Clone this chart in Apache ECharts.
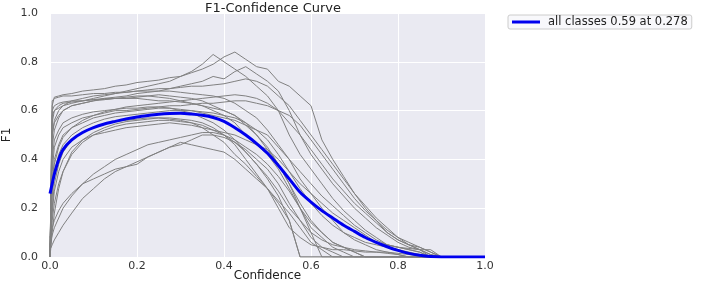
<!DOCTYPE html>
<html>
<head>
<meta charset="utf-8">
<script src="https://cdn.jsdelivr.net/npm/echarts@6/dist/echarts.min.js"></script>
<style>
  html, body { margin: 0; padding: 0; background: #fff; }
  #chart { width: 709px; height: 283px; }
</style>
</head>
<body>
<div id="chart"></div>
<script>
// confidence grid shared by every curve
const conf = [0, 0.005, 0.01, 0.02, 0.03, 0.05, 0.075, 0.1, 0.125, 0.15, 0.175, 0.2, 0.225, 0.25, 0.275,
  0.3, 0.325, 0.35, 0.375, 0.4, 0.425, 0.45, 0.475, 0.5, 0.525, 0.55, 0.575, 0.6, 0.625, 0.65, 0.675,
  0.7, 0.725, 0.75, 0.775, 0.8, 0.825, 0.85, 0.875, 0.9, 1.0];

// per-class F1 curves (grey)
const h1 = [0, 0.62, 0.655, 0.66, 0.665, 0.67, 0.68, 0.685, 0.69, 0.7, 0.705, 0.715, 0.72, 0.725, 0.735, 0.74, 0.755, 0.77, 0.79, 0.82, 0.84, 0.81, 0.78, 0.77, 0.72, 0.7, 0.66, 0.62, 0.48, 0.4, 0.33, 0.26, 0.2, 0.15, 0.1, 0.07, 0.05, 0.03, 0, 0, 0];
const h2 = [0, 0.58, 0.6, 0.61, 0.62, 0.63, 0.64, 0.65, 0.66, 0.67, 0.68, 0.69, 0.7, 0.71, 0.72, 0.74, 0.76, 0.79, 0.83, 0.8, 0.77, 0.74, 0.7, 0.66, 0.6, 0.5, 0.42, 0.36, 0.3, 0.24, 0.19, 0.15, 0.11, 0.08, 0.05, 0.04, 0.03, 0.02, 0, 0, 0];
const h3 = [0, 0.5, 0.55, 0.58, 0.6, 0.62, 0.63, 0.64, 0.65, 0.655, 0.66, 0.67, 0.675, 0.68, 0.69, 0.7, 0.71, 0.72, 0.74, 0.73, 0.76, 0.78, 0.75, 0.72, 0.68, 0.6, 0.5, 0.42, 0.36, 0.3, 0.25, 0.2, 0.16, 0.12, 0.09, 0.06, 0.04, 0.03, 0.01, 0, 0];
const f1 = [0, 0.64, 0.65, 0.655, 0.66, 0.66, 0.665, 0.67, 0.67, 0.675, 0.675, 0.68, 0.68, 0.68, 0.68, 0.675, 0.67, 0.665, 0.66, 0.65, 0.63, 0.6, 0.57, 0.52, 0.46, 0.4, 0.32, 0.26, 0.2, 0.15, 0.1, 0.07, 0.05, 0.03, 0.02, 0.01, 0, 0, 0, 0, 0];
const f2 = [0, 0.55, 0.6, 0.62, 0.63, 0.635, 0.64, 0.645, 0.65, 0.65, 0.655, 0.66, 0.66, 0.665, 0.66, 0.655, 0.65, 0.64, 0.62, 0.6, 0.58, 0.54, 0.5, 0.45, 0.38, 0.3, 0.22, 0.15, 0.1, 0.06, 0.04, 0.02, 0, 0, 0, 0, 0, 0, 0, 0, 0];
const f3 = [0, 0.45, 0.52, 0.57, 0.6, 0.62, 0.63, 0.64, 0.645, 0.65, 0.65, 0.655, 0.66, 0.655, 0.65, 0.64, 0.63, 0.62, 0.6, 0.58, 0.55, 0.5, 0.46, 0.42, 0.36, 0.28, 0.2, 0.12, 0.08, 0.04, 0.02, 0, 0, 0, 0, 0, 0, 0, 0, 0, 0];
const m1 = [0, 0.25, 0.35, 0.42, 0.46, 0.5, 0.53, 0.55, 0.565, 0.575, 0.58, 0.585, 0.59, 0.595, 0.6, 0.6, 0.6, 0.595, 0.59, 0.58, 0.57, 0.55, 0.52, 0.48, 0.42, 0.35, 0.28, 0.22, 0.17, 0.13, 0.1, 0.08, 0.06, 0.05, 0.04, 0.03, 0.02, 0.01, 0, 0, 0];
const m2 = [0, 0.2, 0.3, 0.38, 0.43, 0.48, 0.51, 0.53, 0.545, 0.555, 0.56, 0.565, 0.57, 0.57, 0.565, 0.56, 0.55, 0.53, 0.5, 0.47, 0.42, 0.38, 0.33, 0.28, 0.22, 0.15, 0, 0, 0, 0, 0, 0, 0, 0, 0, 0, 0, 0, 0, 0, 0];
const m3 = [0, 0.15, 0.22, 0.3, 0.35, 0.42, 0.47, 0.5, 0.52, 0.535, 0.545, 0.55, 0.555, 0.56, 0.56, 0.555, 0.55, 0.54, 0.52, 0.5, 0.47, 0.43, 0.38, 0.33, 0.27, 0.2, 0.15, 0.1, 0.07, 0.05, 0.04, 0.03, 0.025, 0.02, 0.02, 0.015, 0.01, 0.005, 0, 0, 0];
const m4 = [0, 0.3, 0.4, 0.46, 0.5, 0.53, 0.55, 0.57, 0.58, 0.59, 0.595, 0.6, 0.605, 0.61, 0.61, 0.605, 0.6, 0.59, 0.58, 0.57, 0.56, 0.54, 0.52, 0.5, 0.45, 0.4, 0.35, 0.3, 0.25, 0.21, 0.17, 0.13, 0.1, 0.07, 0.05, 0.04, 0.03, 0.02, 0, 0, 0];
const m5 = [0, 0.18, 0.27, 0.35, 0.4, 0.45, 0.48, 0.5, 0.51, 0.52, 0.53, 0.535, 0.54, 0.545, 0.55, 0.545, 0.54, 0.53, 0.52, 0.51, 0.5, 0.48, 0.46, 0.44, 0.4, 0.35, 0.3, 0.26, 0.22, 0.18, 0.15, 0.12, 0.09, 0.06, 0.05, 0.04, 0.035, 0.03, 0.03, 0, 0];
const m6 = [0, 0.35, 0.45, 0.5, 0.53, 0.55, 0.57, 0.58, 0.59, 0.6, 0.6, 0.605, 0.61, 0.615, 0.62, 0.62, 0.625, 0.63, 0.63, 0.635, 0.64, 0.64, 0.63, 0.62, 0.6, 0.58, 0.54, 0.48, 0.42, 0.36, 0.3, 0.24, 0.19, 0.15, 0.11, 0.08, 0.06, 0.04, 0.02, 0, 0];
const l1 = [0.03, 0.05, 0.07, 0.1, 0.13, 0.18, 0.24, 0.28, 0.32, 0.35, 0.37, 0.39, 0.41, 0.43, 0.45, 0.46, 0.48, 0.5, 0.5, 0.49, 0.47, 0.44, 0.4, 0.36, 0.3, 0.22, 0.15, 0.08, 0.04, 0.02, 0, 0, 0, 0, 0, 0, 0, 0, 0, 0, 0];
const l2 = [0.08, 0.12, 0.15, 0.19, 0.22, 0.26, 0.3, 0.32, 0.34, 0.36, 0.37, 0.38, 0.41, 0.43, 0.45, 0.47, 0.46, 0.45, 0.44, 0.43, 0.4, 0.36, 0.32, 0.28, 0.23, 0.18, 0.12, 0.06, 0.03, 0, 0, 0, 0, 0, 0, 0, 0, 0, 0, 0, 0];
const l3 = [0.05, 0.09, 0.12, 0.16, 0.2, 0.25, 0.3, 0.34, 0.37, 0.4, 0.42, 0.44, 0.46, 0.47, 0.48, 0.49, 0.5, 0.51, 0.51, 0.5, 0.48, 0.45, 0.42, 0.38, 0.33, 0.27, 0.2, 0.14, 0.1, 0.06, 0.04, 0.02, 0, 0, 0, 0, 0, 0, 0, 0, 0];
const d1 = [0, 0.4, 0.48, 0.52, 0.55, 0.57, 0.585, 0.595, 0.6, 0.605, 0.61, 0.61, 0.615, 0.615, 0.61, 0.6, 0.59, 0.57, 0.55, 0.52, 0.48, 0.43, 0.38, 0.32, 0.25, 0.15, 0, 0, 0, 0, 0, 0, 0, 0, 0, 0, 0, 0, 0, 0, 0];
const d2 = [0, 0.1, 0.18, 0.28, 0.35, 0.43, 0.48, 0.51, 0.53, 0.545, 0.555, 0.56, 0.565, 0.57, 0.57, 0.565, 0.56, 0.55, 0.53, 0.5, 0.46, 0.4, 0.34, 0.28, 0.2, 0.12, 0.08, 0.05, 0.04, 0.03, 0.03, 0.025, 0.02, 0.02, 0.015, 0.01, 0, 0, 0, 0, 0];
const d3 = [0, 0.6, 0.62, 0.63, 0.635, 0.64, 0.64, 0.645, 0.645, 0.65, 0.65, 0.65, 0.645, 0.64, 0.64, 0.635, 0.63, 0.62, 0.61, 0.6, 0.58, 0.55, 0.5, 0.44, 0.38, 0.3, 0.2, 0.1, 0, 0, 0, 0, 0, 0, 0, 0, 0, 0, 0, 0, 0];
const r1 = [0, 0.5, 0.56, 0.6, 0.62, 0.64, 0.65, 0.66, 0.665, 0.67, 0.675, 0.68, 0.685, 0.69, 0.69, 0.695, 0.7, 0.7, 0.705, 0.71, 0.72, 0.73, 0.72, 0.7, 0.66, 0.62, 0.56, 0.5, 0.44, 0.38, 0.32, 0.26, 0.21, 0.16, 0.12, 0.08, 0.05, 0.03, 0.01, 0, 0];
const r2 = [0, 0.3, 0.38, 0.45, 0.49, 0.53, 0.56, 0.58, 0.595, 0.605, 0.615, 0.62, 0.625, 0.63, 0.635, 0.64, 0.645, 0.65, 0.655, 0.66, 0.665, 0.66, 0.65, 0.63, 0.6, 0.55, 0.5, 0.44, 0.38, 0.32, 0.27, 0.22, 0.18, 0.14, 0.1, 0.07, 0.05, 0.04, 0.02, 0, 0];

const classCurves = [h1, h2, h3, f1, f2, f3, m1, m2, m3, m4, m5, m6, l1, l2, l3, d1, d2, d3, r1, r2];

// mean curve over all classes (blue)
const allClasses = [0.26, 0.3, 0.34, 0.4, 0.44, 0.48, 0.51, 0.53, 0.545, 0.556, 0.566, 0.574, 0.58, 0.585, 0.588, 0.589, 0.586, 0.581, 0.572, 0.556, 0.53, 0.5, 0.465, 0.425, 0.375, 0.32, 0.265, 0.225, 0.19, 0.16, 0.13, 0.105, 0.08, 0.06, 0.042, 0.027, 0.015, 0.007, 0.002, 0, 0];
const allName = 'all classes 0.59 at 0.278';

const xTicks = [0, 0.2, 0.4, 0.6, 0.8, 1.0];

const font = 'DejaVu Sans';
const chart = echarts.init(document.getElementById('chart'));

const pairs = (ys) => conf.map((x, i) => [x, ys[i]]);

const series = classCurves.map((ys) => ({
  type: 'line',
  data: pairs(ys),
  symbol: 'none',
  silent: true,
  lineStyle: { color: '#808080', width: 1 },
  z: 2
}));
series.push({
  name: allName,
  type: 'line',
  data: pairs(allClasses),
  symbol: 'none',
  smooth: 0.3,
  lineStyle: { color: '#0000ee', width: 3 },
  itemStyle: { color: '#0000ee' },
  z: 3
});

chart.setOption({
  animation: false,
  title: {
    text: 'F1-Confidence Curve',
    left: 268,
    textAlign: 'center',
    top: -3,
    textStyle: { fontFamily: font, fontSize: 13, fontWeight: 'normal', color: '#222' }
  },
  legend: {
    data: [allName],
    left: 508,
    top: 15,
    padding: [1, 4],
    icon: 'rect',
    itemWidth: 28,
    itemHeight: 3,
    itemGap: 6,
    backgroundColor: '#f8f8fb',
    borderColor: '#cccccc',
    borderWidth: 1,
    borderRadius: 2,
    textStyle: { fontFamily: font, fontSize: 11.5, color: '#222', padding: [0, 0, 0, 3] }
  },
  grid: {
    left: 50, right: 224, top: 13, bottom: 26,
    outerBoundsMode: 'none',
    show: true, backgroundColor: '#eaeaf2', borderWidth: 0
  },
  xAxis: {
    type: 'value', min: 0, max: 1, interval: 0.2,
    name: 'Confidence', nameLocation: 'middle', nameGap: 13, nameMoveOverlap: false,
    nameTextStyle: { fontFamily: font, fontSize: 12, color: '#222' },
    axisLine: { show: false }, axisTick: { show: false },
    axisLabel: { fontFamily: font, fontSize: 11, color: '#333', margin: 4,
      formatter: (v) => xTicks.includes(v) ? v.toFixed(1) : '' },
    splitLine: { lineStyle: { color: '#ffffff', width: 1 } }
  },
  yAxis: {
    type: 'value', min: 0, max: 1, interval: 0.2,
    name: 'F1', nameLocation: 'middle', nameGap: 37, nameMoveOverlap: false,
    nameTextStyle: { fontFamily: font, fontSize: 12, color: '#222' },
    axisLine: { show: false }, axisTick: { show: false },
    axisLabel: { fontFamily: font, fontSize: 11, color: '#333', margin: 12,
      formatter: (v) => v.toFixed(1) },
    splitLine: { lineStyle: { color: '#ffffff', width: 1 } }
  },
  series: series
});
</script>
</body>
</html>
